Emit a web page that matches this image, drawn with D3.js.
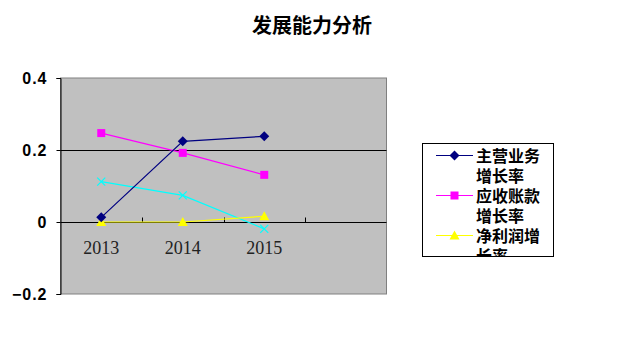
<!DOCTYPE html>
<html><head><meta charset="utf-8">
<script src="https://cdn.jsdelivr.net/npm/d3@7"></script>
<style>body{margin:0;background:#fff;} svg{display:block;}</style>
</head><body>
<script>
const categories = ["2013", "2014", "2015", ""];
const yTicks = [0.4, 0.2, 0, -0.2];
const yTickLabels = ["0.4", "0.2", "0", "\u22120.2"];
const seriesNames = ["主营业务增长率", "应收账款增长率", "净利润增长率", "其他"];
const mainGrowth = [0.013, 0.224, 0.238];
const receivGrowth = [0.247, 0.192, 0.131];
const profitGrowth = [0.0, 0.0, 0.016];
const cyanSeries = [0.112, 0.074, -0.019];
const legendLines = [["主营业务", "增长率"], ["应收账款", "增长率"], ["净利润增", "长率"]];
const title = "发展能力分析";

const W = 626, H = 355;
const svg = d3.select("body").append("svg").attr("width", W).attr("height", H);
const L = 60.5, R = 386.5, T = 78, B = 294;
const x = d3.scaleBand().domain(categories).range([L, R]);
const y = d3.scaleLinear().domain([-0.2, 0.4]).range([B, T]);

svg.append("text").attr("x", 312).attr("y", 33).attr("text-anchor", "middle")
  .attr("font-family", "'Noto Sans CJK SC'").attr("font-weight", "bold").attr("font-size", 20)
  .text(title);

// plot background
svg.append("rect").attr("x", L).attr("y", T).attr("width", R - L).attr("height", B - T)
  .attr("fill", "#c0c0c0").attr("stroke", "#808080").attr("stroke-width", 1);

// gridlines
svg.append("g").selectAll("line").data([0.2]).join("line")
  .attr("x1", L).attr("x2", R).attr("y1", d => Math.round(y(d)) + 0.5).attr("y2", d => Math.round(y(d)) + 0.5)
  .attr("stroke", "#000").attr("stroke-width", 1);

// y axis
const yAxis = d3.axisLeft(y).tickValues(yTicks).tickSize(4).tickFormat((d, i) => yTickLabels[i]);
const gy = svg.append("g").attr("transform", `translate(${L},0)`).call(yAxis);
gy.select(".domain").attr("stroke", "#000");
gy.selectAll(".tick line").attr("stroke", "#000");
gy.selectAll(".tick text").attr("font-family", "'Liberation Sans', Arial").attr("font-weight", "bold")
  .attr("font-size", 16).attr("fill", "#000").attr("x", -13).attr("letter-spacing", "1px");

// x axis at zero
const zeroY = Math.round(y(0)) + 0.5;
svg.append("line").attr("x1", L).attr("x2", R).attr("y1", zeroY).attr("y2", zeroY).attr("stroke", "#000");
const bounds = categories.slice(0, 3).map(c => x(c) + x.bandwidth());
svg.append("g").selectAll("line").data(bounds).join("line")
  .attr("x1", d => Math.round(d) + 0.5).attr("x2", d => Math.round(d) + 0.5)
  .attr("y1", zeroY).attr("y2", zeroY - 5).attr("stroke", "#000");
svg.append("g").selectAll("text").data(categories).join("text")
  .attr("x", d => x(d) + x.bandwidth() / 2).attr("y", 254).attr("text-anchor", "middle")
  .attr("font-family", "'Liberation Serif', 'Times New Roman'").attr("font-size", 18).attr("fill", "#222")
  .text(d => d);

const cx = i => x(categories[i]) + x.bandwidth() / 2;
const line = d3.line().x((d, i) => cx(i)).y(d => y(d));

function drawSeries(data, color, marker) {
  const g = svg.append("g");
  g.append("path").attr("d", line(data)).attr("fill", "none").attr("stroke", color).attr("stroke-width", 1.2);
  data.forEach((v, i) => drawMarker(g, cx(i), y(v), color, marker));
}
function drawMarker(g, px, py, color, marker) {
  if (marker === "diamond") {
    g.append("path").attr("d", `M${px},${py-5}L${px+5},${py}L${px},${py+5}L${px-5},${py}Z`).attr("fill", color);
  } else if (marker === "square") {
    g.append("rect").attr("x", px - 4).attr("y", py - 4).attr("width", 8).attr("height", 8).attr("fill", color);
  } else if (marker === "triangle") {
    g.append("path").attr("d", `M${px},${py-5}L${px+5},${py+4}L${px-5},${py+4}Z`).attr("fill", color);
  } else if (marker === "x") {
    g.append("path").attr("d", `M${px-4},${py-4}L${px+4},${py+4}M${px+4},${py-4}L${px-4},${py+4}`)
      .attr("stroke", color).attr("stroke-width", 1.2).attr("fill", "none");
  }
}
drawSeries(cyanSeries, "#00ffff", "x");
drawSeries(profitGrowth, "#ffff00", "triangle");
drawSeries(receivGrowth, "#ff00ff", "square");
drawSeries(mainGrowth, "#000080", "diamond");

// legend
const lx = 422.5, ly = 143.5, lw = 131, lh = 113;
svg.append("defs").append("clipPath").attr("id", "lclip").append("rect")
  .attr("x", lx).attr("y", ly).attr("width", lw).attr("height", lh);
svg.append("rect").attr("x", lx).attr("y", ly).attr("width", lw).attr("height", lh)
  .attr("fill", "#fff").attr("stroke", "#000");
const lg = svg.append("g").attr("clip-path", "url(#lclip)");
const legendStyles = [["#000080", "diamond"], ["#ff00ff", "square"], ["#ffff00", "triangle"]];
legendLines.forEach((lines, i) => {
  const yy = 155.5 + i * 40;
  lg.append("line").attr("x1", 436).attr("x2", 473).attr("y1", yy).attr("y2", yy)
    .attr("stroke", legendStyles[i][0]).attr("stroke-width", 1.2);
  drawMarker(lg, 454.5, yy, legendStyles[i][0], legendStyles[i][1]);
  const t = lg.append("text").attr("x", 476).attr("y", yy + 6)
    .attr("font-family", "'Noto Sans CJK SC'").attr("font-weight", "bold").attr("font-size", 16)
    .attr("fill", "#000");
  lines.forEach((s, j) => {
    t.append("tspan").attr("x", 476).attr("dy", j === 0 ? 0 : 20).text(s);
  });
});
</script>
</body></html>
